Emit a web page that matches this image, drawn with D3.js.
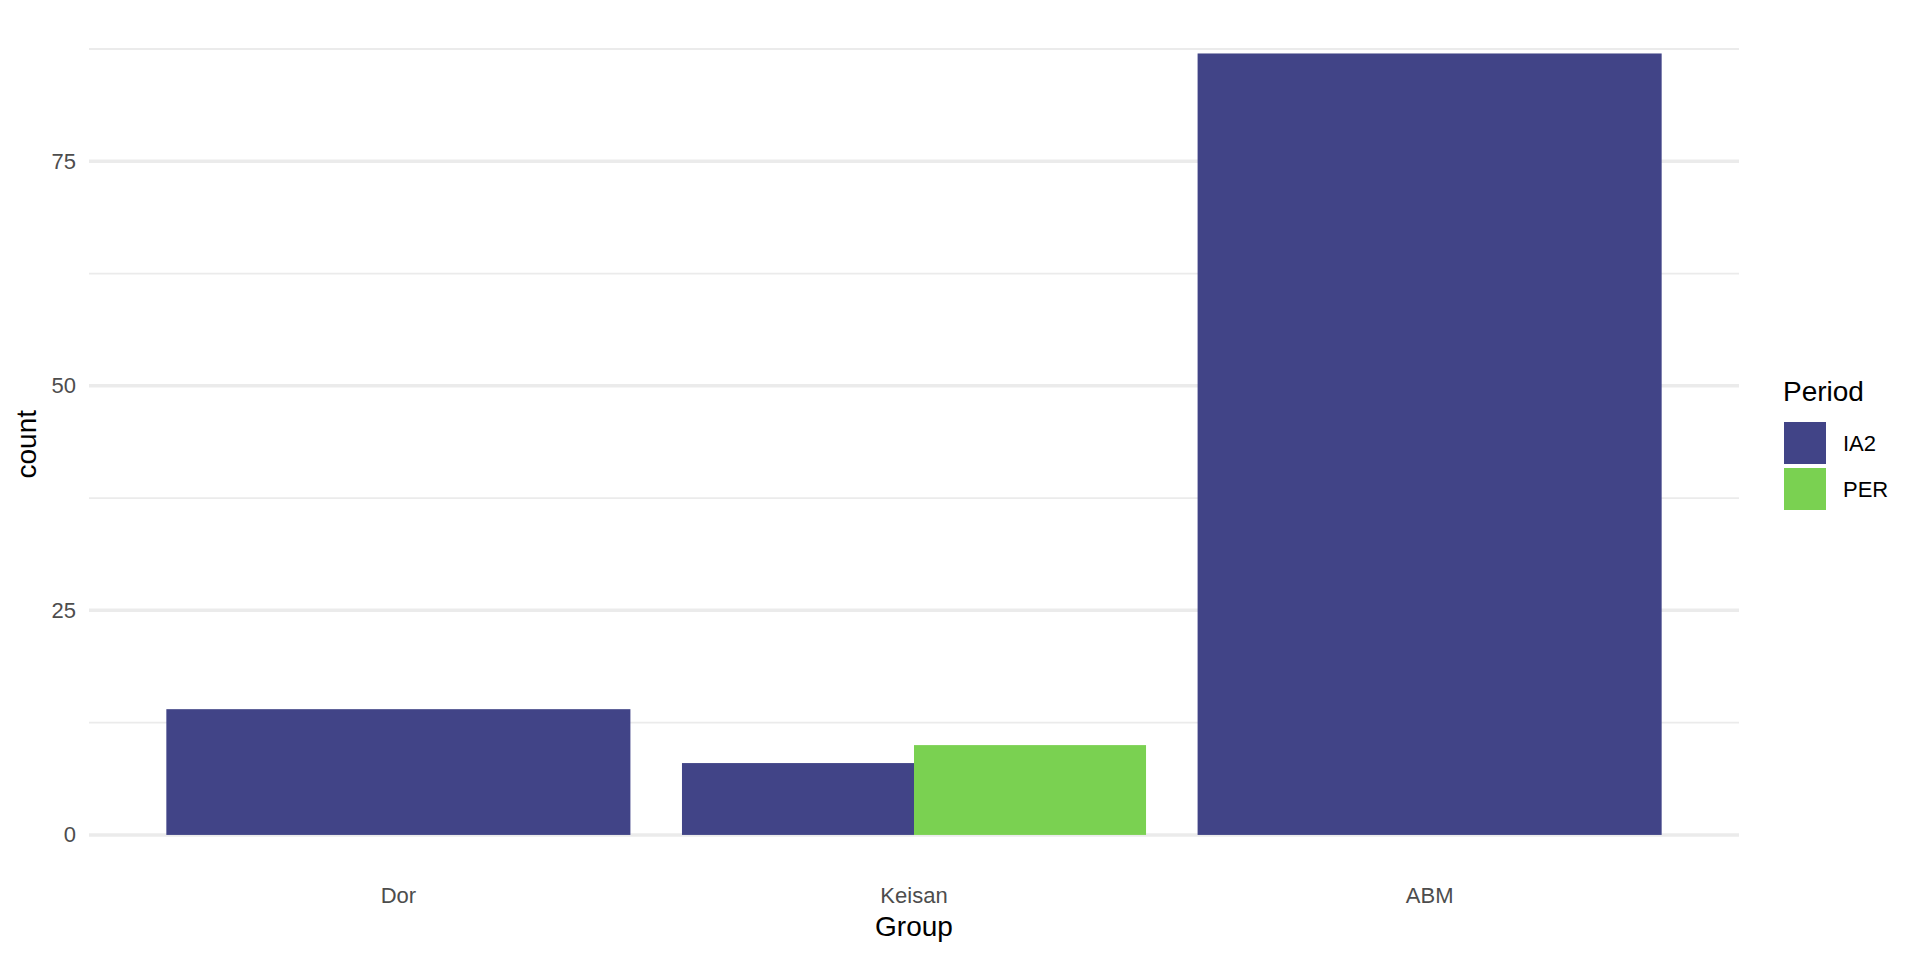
<!DOCTYPE html>
<html>
<head>
<meta charset="utf-8">
<script src="https://cdn.jsdelivr.net/npm/d3@7"></script>
<style>
  body { margin: 0; background: #ffffff; }
  svg { display: block; font-family: "Liberation Sans", Arial, sans-serif; }
</style>
</head>
<body>
<svg id="chart" width="1920" height="960"></svg>
<script>
// data
var groups = ["Dor", "Keisan", "ABM"];
var periods = ["IA2", "PER"];
var ia2Counts = [14, 8, 87];
var perCounts = [null, 10, null];
var periodColors = ["#414487", "#7AD151"];
var majorTicks = [0, 25, 50, 75];
var minorTicks = [12.5, 37.5, 62.5, 87.5];

(function () {
    var svg = d3.select("#chart");
    var panel = { left: 89, right: 1739, top: 14.4, bottom: 874 };

    var x = d3.scaleBand()
        .domain(groups)
        .range([panel.left, panel.right])
        .paddingInner(0.1)
        .paddingOuter(0.15);

    var y = d3.scaleLinear()
        .domain([-4.35, 91.35])
        .range([panel.bottom, panel.top]);

    var color = d3.scaleOrdinal().domain(periods).range(periodColors);

    // build bars, dodged like ggplot (missing series take no room)
    var series = [ia2Counts, perCounts];
    var bars = [];
    groups.forEach(function (g, i) {
        var present = [];
        periods.forEach(function (p, j) {
            if (series[j][i] != null) present.push({ group: g, period: p, value: series[j][i] });
        });
        var w = x.bandwidth() / present.length;
        present.forEach(function (d, k) {
            d.x0 = x(g) + k * w;
            d.w = w;
            bars.push(d);
        });
    });

    // grid
    var grid = svg.append("g").attr("class", "grid");
    grid.selectAll("line.minor")
        .data(minorTicks)
        .enter().append("line")
        .attr("class", "minor")
        .attr("x1", panel.left).attr("x2", panel.right)
        .attr("y1", function (d) { return y(d); })
        .attr("y2", function (d) { return y(d); })
        .attr("stroke", "#EBEBEB")
        .attr("stroke-width", 1.8);
    grid.selectAll("line.major")
        .data(majorTicks)
        .enter().append("line")
        .attr("class", "major")
        .attr("x1", panel.left).attr("x2", panel.right)
        .attr("y1", function (d) { return y(d); })
        .attr("y2", function (d) { return y(d); })
        .attr("stroke", "#EBEBEB")
        .attr("stroke-width", 3.5);

    // bars
    svg.append("g")
        .selectAll("rect")
        .data(bars)
        .enter().append("rect")
        .attr("x", function (d) { return d.x0; })
        .attr("width", function (d) { return d.w; })
        .attr("y", function (d) { return y(d.value); })
        .attr("height", function (d) { return y(0) - y(d.value); })
        .attr("fill", function (d) { return color(d.period); });

    // y axis labels
    var yAxis = svg.append("g")
        .attr("transform", "translate(" + (panel.left - 5) + ",0)")
        .call(d3.axisLeft(y).tickValues(majorTicks).tickSize(0).tickPadding(8));
    yAxis.select(".domain").remove();
    yAxis.selectAll("text")
        .attr("fill", "#4D4D4D")
        .style("font-size", "22px")
        .style("font-family", "Liberation Sans, Arial, sans-serif");

    // x axis labels
    var xAxis = svg.append("g")
        .attr("transform", "translate(0," + panel.bottom + ")")
        .call(d3.axisBottom(x).tickSize(0).tickPadding(13.5));
    xAxis.select(".domain").remove();
    xAxis.selectAll("text")
        .attr("fill", "#4D4D4D")
        .style("font-size", "22px")
        .style("font-family", "Liberation Sans, Arial, sans-serif");

    // axis titles
    svg.append("text")
        .attr("x", (panel.left + panel.right) / 2)
        .attr("y", 936)
        .attr("text-anchor", "middle")
        .attr("font-size", 28)
        .attr("fill", "#000")
        .text("Group");

    svg.append("text")
        .attr("transform", "translate(36," + ((panel.top + panel.bottom) / 2) + ") rotate(-90)")
        .attr("text-anchor", "middle")
        .attr("font-size", 28)
        .attr("fill", "#000")
        .text("count");

    // legend
    var legend = svg.append("g").attr("transform", "translate(1784,0)");
    legend.append("text")
        .attr("x", -1)
        .attr("y", 401)
        .attr("font-size", 28)
        .attr("fill", "#000")
        .text("Period");

    var item = legend.selectAll("g.item")
        .data(periods)
        .enter().append("g")
        .attr("class", "item")
        .attr("transform", function (d, i) { return "translate(0," + (422 + i * 46) + ")"; });
    item.append("rect")
        .attr("width", 42)
        .attr("height", 42)
        .attr("fill", function (d) { return color(d); });
    item.append("text")
        .attr("x", 59)
        .attr("y", 21)
        .attr("dy", "0.35em")
        .attr("font-size", 22)
        .attr("fill", "#000")
        .text(function (d) { return d; });
})();
</script>
</body>
</html>
